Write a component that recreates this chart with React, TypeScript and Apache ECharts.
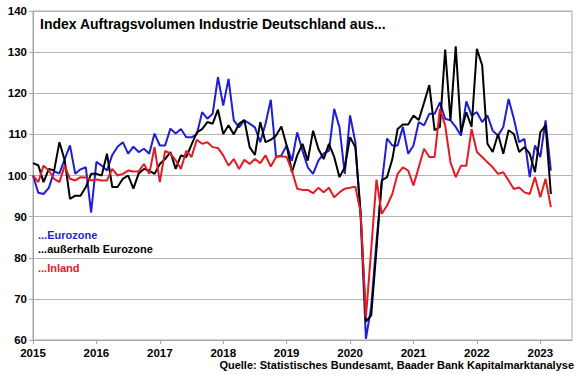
import React, { useEffect, useRef } from "react";
import * as echarts from "echarts";

const FONT = "'Liberation Sans', Arial, sans-serif";

// Monthly categories Jan 2015 .. Jul 2023 (axis runs a few months past the last value)
const months: string[] = [];
for (let y = 2015; y <= 2023; y++) {
  for (let m = 1; m <= 12; m++) {
    if (y === 2023 && m > 7) break;
    months.push(`${y}-${String(m).padStart(2, "0")}`);
  }
}

const yTicks = [60, 70, 80, 90, 100, 110, 120, 130, 140];

// ...Eurozone (blue)
const eurozone = [
  100, 95.8, 95.5, 97, 101, 100.5, 104, 107.3, 100.4, 101.5, 102, 91,
  103.3, 102.4, 101.2, 105, 107, 108.1, 105.3, 107, 105.7, 106.5, 105.3, 110.2,
  107.3, 107.3, 111.4, 110.2, 111.3, 109.3, 109.3, 110, 115.4, 113.8, 115, 123.9,
  117, 123.5, 113.4, 111.7, 113.4, 112.6, 111.7, 108.1, 112.6, 118.4, 104.5, 104.9,
  107.3, 103.6, 110.5, 106, 102, 100.4, 103.6, 105.3, 106, 116.2, 111.7, 100.4,
  114.6, 108.1, 90, 60.3, 68, 84, 98, 109, 107.3, 107.3, 111.8, 105.3,
  107.3, 113, 112.2, 115, 115, 117.8, 113.8, 113.4, 111.8, 109.7, 118, 114.6,
  115.4, 113, 114.6, 110.9, 109.7, 111.8, 118.6, 113.8, 108.1, 108.9, 99.6, 107.3,
  104.5, 113.4, 101.2,
];

// ...außerhalb Eurozone (black)
const ausserhalb = [
  103, 102.5, 98.4, 101.6, 101.2, 108.1, 103.7, 94.3, 95.1, 95.1, 97.2, 100.4,
  100.4, 100, 105.3, 97.2, 97.2, 99.2, 100, 96.8, 100.5, 101.6, 101.2, 100.4,
  102.8, 104, 105.7, 101.6, 104.9, 104.5, 107.5, 110.5, 111.3, 113, 112.6, 116,
  110.1, 112.2, 110, 112.6, 113.5, 106.9, 105, 113, 108.1, 108.7, 109.7, 111.9,
  107.3, 100.8, 104.9, 107.7, 103.6, 110.9, 106.5, 104, 107.7, 104.5, 99.6, 102,
  109.3, 106.9, 91, 64.5, 66, 82, 98.8, 99.6, 104, 111.3, 112.4, 112.4,
  114.6, 113.5, 117.7, 122, 111, 111.8, 130.6, 113.4, 131.4, 110.5, 115.4, 111.8,
  130.8, 126.8, 107.7, 105.7, 110.1, 105.3, 111, 110.1, 105.7, 106.9, 105.3, 100.8,
  110.5, 112.2, 95.5,
];

// ...Inland (red)
const inland = [
  100, 98.4, 102.4, 101.2, 99.2, 98.4, 102.4, 99.2, 98.8, 99.6, 99.5, 98.8,
  99, 98.8, 98.8, 101.6, 100, 100.4, 101.2, 101, 101, 102.8, 100.4, 106.9,
  98.4, 106, 105.3, 103.7, 101.6, 106, 104.5, 108.7, 107.7, 108.1, 106.9, 106.7,
  104.9, 102.4, 104, 101.6, 103.8, 102.8, 104, 103, 104.9, 102.2, 104.5, 104.7,
  104.5, 101.2, 96.8, 96.5, 96.5, 95.7, 97, 95.9, 97, 94.7, 95.9, 96.8,
  97, 97.3, 91, 65.5, 82, 99, 90.7, 92.7, 95.5, 100.4, 102, 101.2,
  97.6, 102, 106.5, 104.5, 104.5, 116.2, 112.2, 103.2, 99.6, 102.4, 102.4, 111.3,
  105.7, 104.5, 103.2, 102, 100.4, 100.8, 98.8, 96.7, 97.1, 95.9, 95.5, 99.6,
  94.7, 99.2, 92.3,
];

const seriesNames = ["...Eurozone", "...außerhalb Eurozone", "...Inland"];
const BLUE = "#1f1fd1";
const BLACK = "#000000";
const RED = "#e31b23";

export default function App() {
  const ref = useRef<HTMLDivElement>(null);

  useEffect(() => {
    if (!ref.current) return;
    const chart = echarts.init(ref.current, null, { renderer: "svg" });
    const yearTick = (i: number) => i % 12 === 0;
    chart.setOption({
      animation: false,
      backgroundColor: "#ffffff",
      grid: {
        left: 33,
        right: 8,
        top: 11,
        bottom: 35,
        show: true,
        borderColor: "#a6a6a6",
        borderWidth: 1,
      },
      xAxis: {
        type: "category",
        data: months,
        boundaryGap: false,
        axisLine: { show: true, lineStyle: { color: "#a6a6a6", width: 1 } },
        axisTick: {
          show: true,
          length: 4,
          interval: yearTick,
          lineStyle: { color: "#a6a6a6" },
        },
        axisLabel: {
          interval: yearTick,
          formatter: (v: string) => v.slice(0, 4),
          color: "#000",
          fontWeight: "bold",
          fontSize: 11.5,
          fontFamily: FONT,
          margin: 7,
        },
        splitLine: { show: false },
      },
      yAxis: {
        type: "value",
        min: yTicks[0],
        max: yTicks[yTicks.length - 1],
        interval: 10,
        axisLine: { show: true, lineStyle: { color: "#a6a6a6", width: 1 } },
        axisTick: { show: true, length: 4, lineStyle: { color: "#a6a6a6" } },
        axisLabel: {
          color: "#000",
          fontWeight: "bold",
          fontSize: 11.5,
          fontFamily: FONT,
          margin: 6,
        },
        splitLine: { show: true, lineStyle: { color: "#b5b5b5", width: 1 } },
      },
      series: [
        {
          name: seriesNames[0],
          type: "line",
          data: eurozone,
          symbol: "none",
          lineStyle: { color: BLUE, width: 2 },
          itemStyle: { color: BLUE },
          z: 2,
        },
        {
          name: seriesNames[1],
          type: "line",
          data: ausserhalb,
          symbol: "none",
          lineStyle: { color: BLACK, width: 2 },
          itemStyle: { color: BLACK },
          z: 3,
        },
        {
          name: seriesNames[2],
          type: "line",
          data: inland,
          symbol: "none",
          lineStyle: { color: RED, width: 2 },
          itemStyle: { color: RED },
          z: 4,
        },
      ],
      graphic: [
        {
          type: "text",
          left: 40,
          top: 17,
          style: {
            text: "Index Auftragsvolumen Industrie Deutschland aus...",
            fill: "#000",
            font: `bold 14px ${FONT}`,
          },
        },
        {
          type: "text",
          left: 38,
          top: 229,
          style: { text: seriesNames[0], fill: BLUE, font: `bold 11px ${FONT}` },
        },
        {
          type: "text",
          left: 38,
          top: 243,
          style: { text: seriesNames[1], fill: BLACK, font: `bold 11px ${FONT}` },
        },
        {
          type: "text",
          left: 38,
          top: 262,
          style: { text: seriesNames[2], fill: RED, font: `bold 11px ${FONT}` },
        },
        {
          type: "text",
          right: 6,
          top: 359,
          style: {
            text: "Quelle: Statistisches Bundesamt, Baader Bank Kapitalmarktanalyse",
            fill: "#000",
            font: `bold 11px ${FONT}`,
          },
        },
      ],
    });
    return () => chart.dispose();
  }, []);

  return (
    <div
      ref={ref}
      style={{ position: "absolute", left: 0, top: 0, width: 580, height: 375 }}
    />
  );
}
